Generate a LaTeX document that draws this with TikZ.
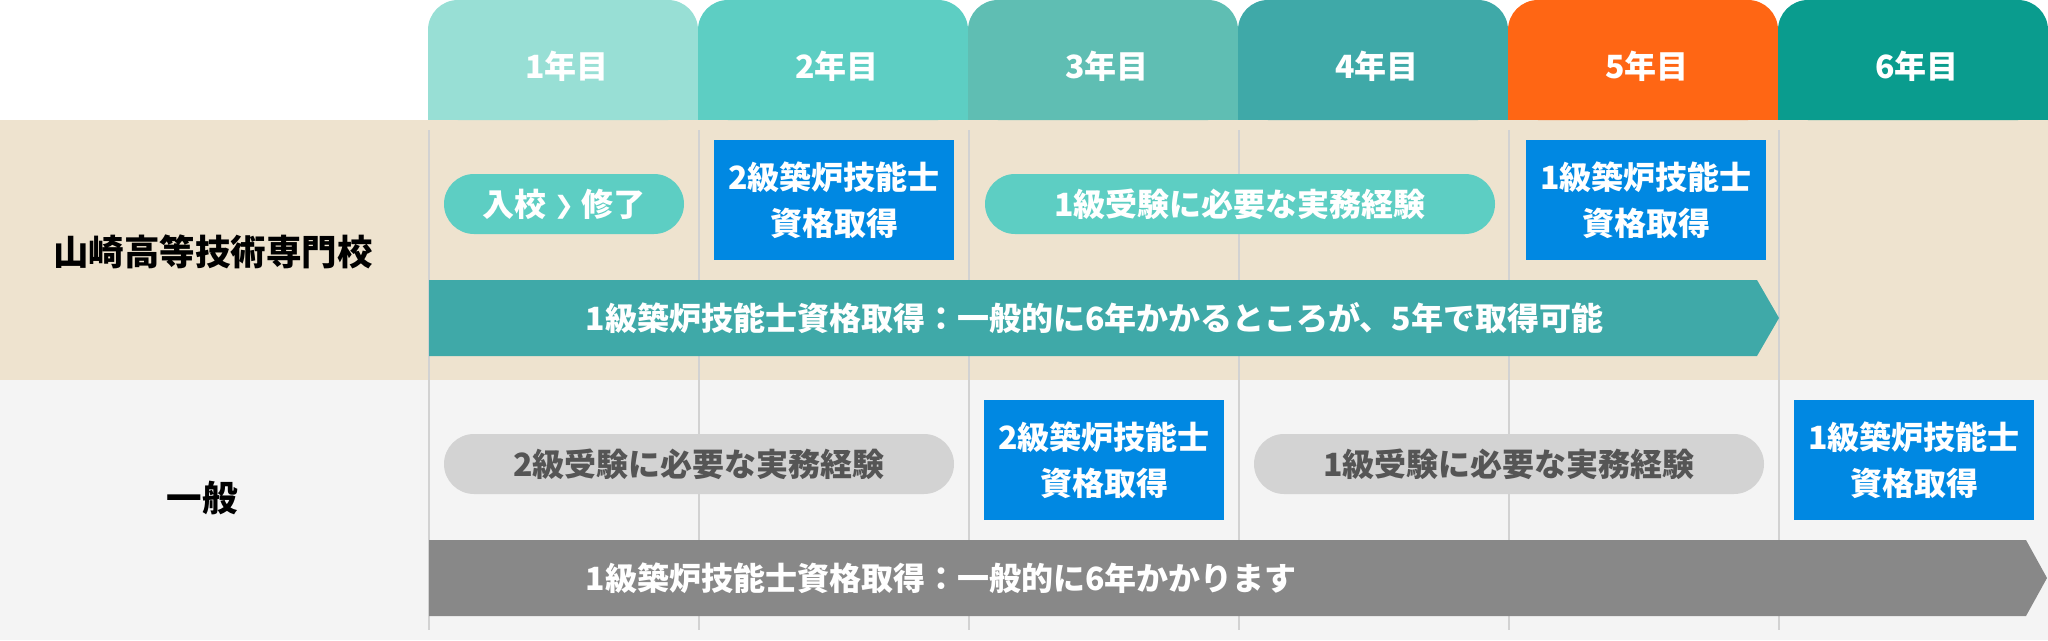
\documentclass[tikz,border=0pt]{standalone}
\usepackage{fontspec}
\setmainfont{Noto Sans CJK JP}
\newfontfamily\symfont{DejaVu Sans}
\usepackage{tikz}
\usetikzlibrary{positioning}
\definecolor{yearone}{HTML}{98DFD5}
\definecolor{yeartwo}{HTML}{5DCEC3}
\definecolor{yearthree}{HTML}{5FBEB3}
\definecolor{yearfour}{HTML}{3FA9A8}
\definecolor{yearfive}{HTML}{FF6614}
\definecolor{yearsix}{HTML}{0A9C8E}
\definecolor{schoolbg}{HTML}{EEE3CF}
\definecolor{generalbg}{HTML}{F4F4F4}
\definecolor{certblue}{HTML}{0088E2}
\definecolor{pillgray}{HTML}{D3D3D3}
\definecolor{graytext}{HTML}{555555}
\definecolor{arrowgray}{HTML}{888888}
\definecolor{gridgray}{HTML}{D2D2D2}
\newcommand{\jpbody}{\fontsize{32}{46}\selectfont}
\newcommand{\jplabel}{\fontsize{35.5}{42}\selectfont}

\begin{document}
\begin{tikzpicture}[x=1pt, y=-1pt, font=\bfseries\jpbody,
    pill/.style={rounded corners=30pt, minimum height=60pt, inner sep=0pt, text=white},
    certbox/.style={fill=certblue, minimum width=240pt, minimum height=120pt, inner sep=0pt, text=white, align=center},
    gridline/.style={gridgray, line width=1.5pt}]
    \useasboundingbox (0,0) rectangle (2048,640);

    % Row backgrounds
    \fill[schoolbg] (0,120) rectangle (2048,380);
    \fill[generalbg] (0,380) rectangle (2048,640);

    % Year tabs
    \foreach \yr/\c [count=\i from 0] in {1/yearone, 2/yeartwo, 3/yearthree, 4/yearfour, 5/yearfive, 6/yearsix} {
        \fill[\c, rounded corners=30pt] (428+270*\i, 0) rectangle (698+270*\i, 120);
        \fill[\c] (428+270*\i, 60) rectangle (698+270*\i, 120);
        \node[text=white] (year\yr) at (567+270*\i, 66) {{\yr}年目};
    }

    % Column lines
    \foreach \x in {429, 699, 969, 1239, 1509, 1779}
        \draw[gridline] (\x,130) -- (\x,630);

    % Row labels
    \node[font=\bfseries\jplabel] (school) at (213,252) {山崎高等技術専門校};
    \node[font=\bfseries\jplabel] (general) at (202,498) {一般};

    % School row
    \node[pill, fill=yeartwo, minimum width=240pt] (enroll) at (564,204) {入校 \raisebox{3pt}{\symfont\fontsize{24}{30}\selectfont ❯} 修了};
    \node[certbox] (certtwo) at (834,200) {2級築炉技能士\\資格取得};
    \node[pill, fill=yeartwo, minimum width=510pt] (workone) at (1240,204) {1級受験に必要な実務経験};
    \node[certbox] (certone) at (1646,200) {1級築炉技能士\\資格取得};
    \fill[yearfour] (429,280) -- (1757,280) -- (1779,318) -- (1757,356) -- (429,356) -- cycle;
    \node[anchor=west, text=white] (fastpath) at (582,318) {1級築炉技能士資格取得：一般的に6年かかるところが、5年で取得可能};

    % General row
    \node[pill, fill=pillgray, text=graytext, minimum width=510pt] (gentwowork) at (699,464) {2級受験に必要な実務経験};
    \node[certbox] (gentwocert) at (1104,460) {2級築炉技能士\\資格取得};
    \node[pill, fill=pillgray, text=graytext, minimum width=510pt] (genonework) at (1509,464) {1級受験に必要な実務経験};
    \node[certbox] (genonecert) at (1914,460) {1級築炉技能士\\資格取得};
    \fill[arrowgray] (429,540) -- (2026,540) -- (2047,578) -- (2026,616) -- (429,616) -- cycle;
    \node[anchor=west, text=white] (slowpath) at (582,578) {1級築炉技能士資格取得：一般的に6年かかります};
\end{tikzpicture}
\end{document}
